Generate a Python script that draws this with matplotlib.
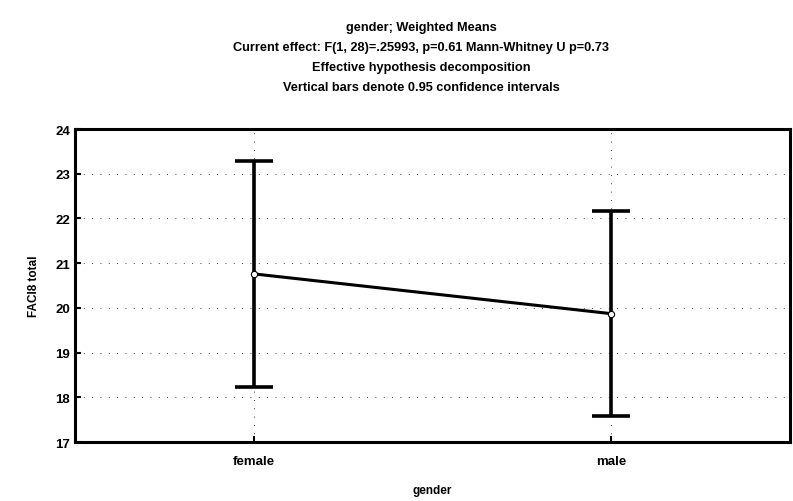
import matplotlib
matplotlib.use("Agg")
import matplotlib.pyplot as plt

categories = ["female", "male"]
means = [20.76, 19.87]
ci_upper = [23.29, 22.16]
ci_lower = [18.23, 17.58]
y_ticks = [17, 18, 19, 20, 21, 22, 23, 24]

title_lines = [
    "gender; Weighted Means",
    "Current effect: F(1, 28)=.25993, p=0.61 Mann-Whitney U p=0.73",
    "Effective hypothesis decomposition",
    "Vertical bars denote 0.95 confidence intervals",
]

plt.rcParams["font.family"] = ["Liberation Sans", "DejaVu Sans"]

fig = plt.figure(figsize=(7.93, 5.02), dpi=100)
ax = fig.add_axes([75 / 793, 1 - 443 / 502, (790 - 75) / 793, (443 - 130) / 502])

xpos = [0.25, 0.75]
err_low = [m - l for m, l in zip(means, ci_lower)]
err_high = [u - m for m, u in zip(means, ci_upper)]

ax.errorbar(xpos, means, yerr=[err_low, err_high], fmt="none",
            ecolor="black", elinewidth=2.6, capsize=13.7, capthick=2.6, zorder=3)
ax.plot(xpos, means, color="black", lw=2.2, zorder=4)
ax.plot(xpos, means, "o", ms=4.5, mfc="white", mec="black", mew=0.8, zorder=5)

ax.set_xlim(0, 1)
ax.set_ylim(17, 24)
ax.set_yticks(y_ticks)
ax.set_xticks(xpos)
ax.set_xticklabels(categories)
ax.grid(True, color="black", linestyle=(0, (1, 9)), linewidth=0.6)
ax.tick_params(direction="in", length=4, width=1.5, labelsize=9.5)
ax.tick_params(axis="x", pad=9.5)
for lab in ax.get_xticklabels() + ax.get_yticklabels():
    lab.set_fontweight("bold")
for s in ax.spines.values():
    s.set_linewidth(2.2)

ax.set_ylabel("FACI8 total", fontsize=8.5, fontweight="bold", labelpad=11)
ax.set_xlabel("gender", fontsize=8.5, fontweight="bold", va="center")
ax.xaxis.set_label_coords(0.5, (443 - 491) / 313)

ys = [28, 48, 68, 88]
for t, y in zip(title_lines, ys):
    fig.text(421 / 793, 1 - y / 502, t, ha="center", va="center",
             fontsize=9.2, fontweight="bold")

fig.savefig("out.png", dpi=100)
